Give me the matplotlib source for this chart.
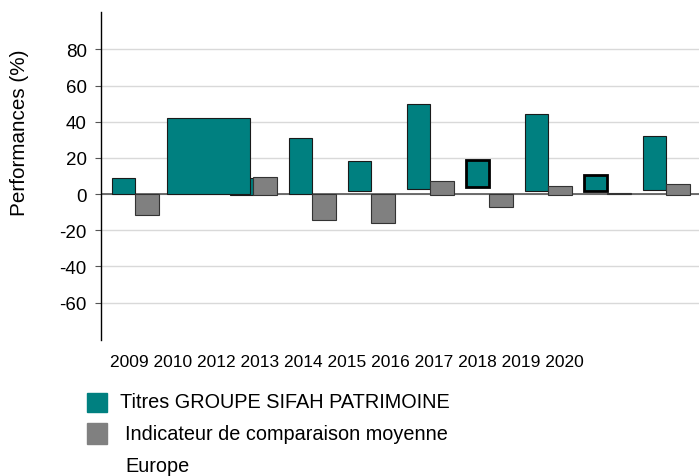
import numpy as np
import matplotlib.pyplot as plt
from matplotlib.patches import Rectangle

plt.rcParams['font.family'] = ['Liberation Sans', 'DejaVu Sans']

years = ['2009', '2010', '2012', '2013', '2014', '2015', '2016', '2017', '2018', '2019', '2020']
# teal bars: top value and base (several bars float a little above zero in the source)
sifah_top = [8.7, 41.8, 8.7, 30.9, 18.5, 49.8, 18.7, 44.4, 10.6, 32.0]
sifah_base = [0, 0, -0.5, 0, 1.5, 2.8, 3.7, 1.5, 1.7, 2.2]
# grey bars (slot 1 hidden behind the wide bar)
indic_top = [-11.3, np.nan, 9.6, -14.3, -15.7, 7.0, -6.9, 4.6, 0.5, 5.6]
indic_base = [0, 0, -0.7, 0, 0, -0.4, 0, -0.4, 0, -0.4]
yticks = [-60, -40, -20, 0, 20, 40, 60, 80]

teal = '#008080'
grey = '#808080'

fig = plt.figure(figsize=(6.99, 4.77), dpi=100)
ax = fig.add_axes([0.1445, 0.2857, 0.8555, 0.6864])

x = np.arange(len(sifah_top))
st = np.array(sifah_top)
sb = np.array(sifah_base)
gt = np.array(indic_top)
gb = np.array(indic_base)

# the 2010 bar is drawn much wider in the original
wide = 1
normal = [i for i in x if i != wide]
lw = [2.0 if i in (6, 8) else 0.8 for i in normal]
ec = ['black' if i in (6, 8) else '#1a1a1a' for i in normal]
ax.bar(x[normal] - 0.4, st[normal] - sb[normal], bottom=sb[normal], width=0.4,
       align='edge', color=teal, edgecolor=ec, linewidth=lw, zorder=3)
ax.bar(x[wide] - 0.464, st[wide] - sb[wide], bottom=sb[wide], width=1.41,
       align='edge', color=teal, edgecolor='#1a1a1a', linewidth=0.8, zorder=3.5)
ax.bar(x, gt - gb, bottom=gb, width=0.4, align='edge', color=grey,
       edgecolor='#333333', linewidth=0.8, zorder=4)

ax.axhline(0, color='#555555', lw=1.2, zorder=2)

ax.set_xlim(-0.583, 9.553)
ax.set_ylim(-80.5, 100.5)
ax.set_yticks(yticks)
ax.set_yticklabels([str(v) for v in yticks], fontsize=13.5)
ax.set_xticks([])
ax.yaxis.grid(True, color='#d9d9d9', lw=1)
ax.set_axisbelow(True)
for s in ['top', 'right', 'bottom']:
    ax.spines[s].set_visible(False)
ax.spines['left'].set_color('black')
ax.spines['left'].set_linewidth(1)
ax.tick_params(axis='y', direction='out', length=4.3, width=0.8, color='#555555', pad=6)

ax.set_ylabel('Performances (%)', fontsize=14.9)
ax.yaxis.set_label_coords(-0.12, 0.636)

fig.text(0.496, 0.239, ' '.join(years), fontsize=12.5, ha='center', va='center')

# legend
fig.patches.append(Rectangle((87 / 699, 1 - 412.7 / 477), 20 / 699, 18.7 / 477,
                             transform=fig.transFigure, color=teal))
fig.patches.append(Rectangle((87 / 699, 1 - 445 / 477), 20 / 699, 21 / 477,
                             transform=fig.transFigure, color=grey))
fig.text(120 / 699, 1 - 403 / 477, 'Titres GROUPE SIFAH PATRIMOINE', fontsize=14.3, va='center')
fig.text(125 / 699, 1 - 435 / 477, 'Indicateur de comparaison moyenne', fontsize=14.3, va='center')
fig.text(125 / 699, 1 - 467 / 477, 'Europe', fontsize=14.3, va='center')

fig.savefig('out.png', dpi=100)
